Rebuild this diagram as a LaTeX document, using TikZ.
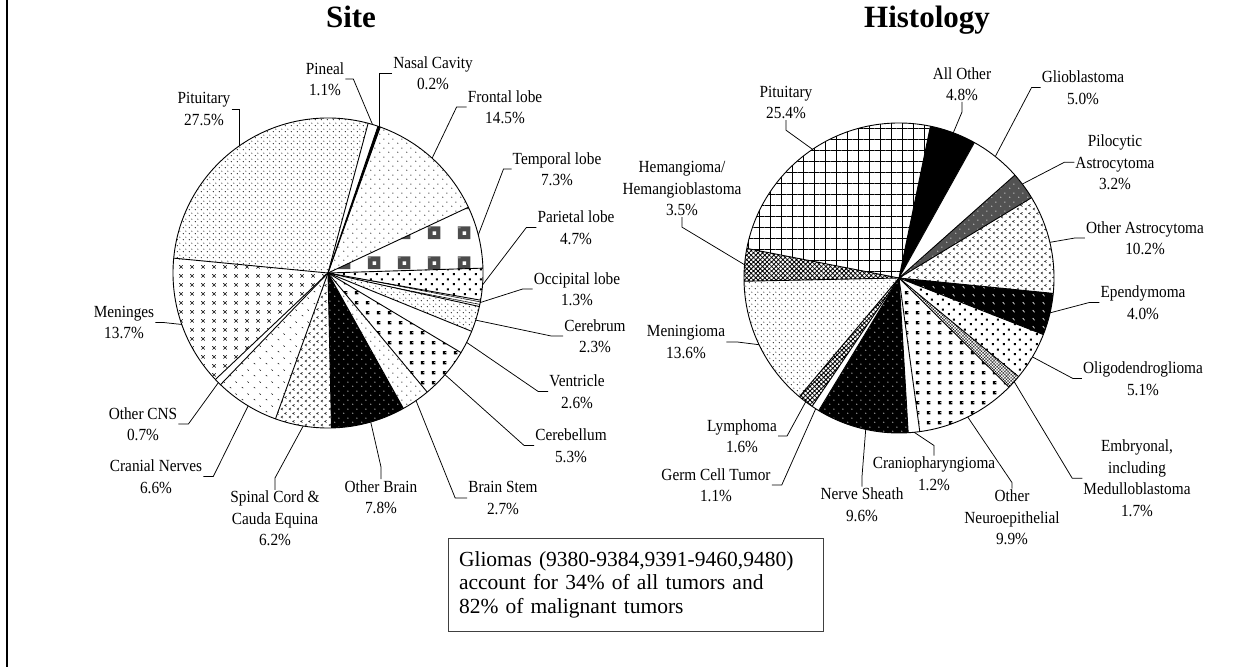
\documentclass[tikz,border=0pt]{standalone}
\usepackage{fontspec}
\setmainfont{Liberation Serif}
\newfontfamily\lblfont[FakeStretch=0.9]{Liberation Serif}
\usetikzlibrary{patterns.meta}

% fill patterns of the slices
\tikzdeclarepattern{name=finedots, type=uncolored,
  bounding box={(0pt,0pt) and (5.5pt,5.5pt)}, tile size={(5.5pt,5.5pt)},
  code={\fill (1.4pt,1.4pt) circle (0.6pt); \fill (4.15pt,4.15pt) circle (0.6pt);}}
\tikzdeclarepattern{name=sparsedots, type=uncolored,
  bounding box={(0pt,0pt) and (9pt,9pt)}, tile size={(9pt,9pt)},
  code={\fill (2pt,2pt) circle (0.65pt); \fill (6.5pt,6.5pt) circle (0.65pt);}}
\tikzdeclarepattern{name=bigdots, type=uncolored,
  bounding box={(0pt,0pt) and (11pt,10pt)}, tile size={(11pt,10pt)},
  code={\fill (2pt,2pt) rectangle (4.2pt,4.2pt); \fill (7.5pt,7pt) rectangle (9.7pt,9.2pt);}}
\tikzdeclarepattern{name=blocks, type=colored,
  bounding box={(0pt,0pt) and (30pt,30pt)}, tile size={(30pt,30pt)},
  code={\fill[black!70] (8pt,8pt) rectangle (21pt,21pt);
        \fill[white] (13pt,12.5pt) rectangle (16.5pt,16pt);
        \fill[black!45] (8pt,19pt) rectangle (11pt,21pt);}}
\tikzdeclarepattern{name=xmarks, type=uncolored,
  bounding box={(0pt,0pt) and (11pt,9pt)}, tile size={(11pt,9pt)},
  code={\draw[line width=0.6pt] (3.7pt,2.7pt) -- (7.3pt,6.3pt) (3.7pt,6.3pt) -- (7.3pt,2.7pt);}}
\tikzdeclarepattern{name=chevrons, type=uncolored,
  bounding box={(0pt,0pt) and (8pt,8pt)}, tile size={(8pt,8pt)},
  code={\draw[line width=0.55pt] (3.3pt,3.4pt) -- (1.2pt,2.2pt) -- (3.3pt,1pt)
        (7.3pt,7.4pt) -- (5.2pt,6.2pt) -- (7.3pt,5pt);}}
\tikzdeclarepattern{name=ticks, type=uncolored,
  bounding box={(0pt,0pt) and (12pt,12pt)}, tile size={(12pt,12pt)},
  code={\draw[line width=0.55pt] (2pt,4.2pt) -- (3.5pt,3pt) (8pt,10.2pt) -- (9.5pt,9pt);}}
\tikzdeclarepattern{name=slashes, type=uncolored,
  bounding box={(0pt,0pt) and (10pt,8pt)}, tile size={(10pt,8pt)},
  code={\draw[line width=0.7pt] (3pt,5.5pt) -- (5pt,3pt);}}
\tikzdeclarepattern{name=hooks, type=uncolored,
  bounding box={(0pt,0pt) and (11pt,10pt)}, tile size={(11pt,10pt)},
  code={\fill[even odd rule] (3pt,3pt) rectangle (7pt,6.5pt) (5.5pt,4.2pt) rectangle (7pt,5.3pt);}}

\tikzset{
  slice/.style={draw=black, line width=0.9pt, line join=round},
  sWhite/.style={fill=white},
  sBlack/.style={fill=black},
  sFineDots/.style={pattern=finedots},
  sDots/.style={pattern=sparsedots},
  sBigDots/.style={pattern=bigdots},
  sBlocks/.style={pattern=blocks},
  sCross/.style={pattern=xmarks},
  sChevron/.style={pattern=chevrons},
  sTicks/.style={pattern=ticks},
  sHooks/.style={pattern=hooks},
  sBlackDots/.style={fill=black, postaction={pattern=sparsedots, pattern color=white}},
  sGrayDots/.style={fill=black!68, postaction={pattern=sparsedots, pattern color=white}},
  sBlackTicks/.style={fill=black, postaction={pattern=slashes, pattern color=white}},
  sGrid/.style={pattern={Hatch[angle=0, distance=11pt, line width=0.7pt]}},
  sMesh/.style={pattern={Hatch[angle=45, distance=3.2pt, line width=0.8pt]}},
  sStipple/.style={pattern={Hatch[angle=45, distance=2.2pt, line width=0.25pt]}},
  sStripes/.style={pattern={Lines[angle=-11, distance=2.5pt, line width=0.6pt]}},
  lbl/.style={font=\lblfont\fontsize{17}{21.5}\selectfont, align=center, inner sep=1pt},
  lead/.style={draw=black, line width=0.75pt},
  ttl/.style={font=\bfseries\fontsize{31}{36}\selectfont, anchor=base},
}

\newcommand{\pieslice}[3]{\fill[#3] (0,0) -- (#1:155) arc[start angle=#1, end angle=#2, radius=155] -- cycle;}

\begin{document}
\begin{tikzpicture}[x=1pt, y=1pt]
\useasboundingbox (0,0) rectangle (1251,667);
\draw[line width=1.6pt] (7,0) -- (7,667);

\node[ttl] (site) at (351,639) {Site};
\node[ttl] (histo) at (927,639) {Histology};

% Site pie
\begin{scope}[shift={(328,394)}]
  \pieslice{174.5}{75}{sFineDots}
  \pieslice{75}{71.2}{sWhite}
  \pieslice{71.2}{70.3}{sBlack}
  \pieslice{70.3}{25.1}{sDots}
  \pieslice{25.1}{1.8}{sBlocks}
  \pieslice{1.8}{-10.1}{sBigDots}
  \pieslice{-10.1}{-12.5}{sStripes}
  \pieslice{-12.5}{-22.1}{sFineDots}
  \pieslice{-22.1}{-30.9}{sWhite}
  \pieslice{-30.9}{-50.2}{sHooks}
  \pieslice{-50.2}{-60.9}{sDots}
  \pieslice{-60.9}{-88.7}{sBlackDots}
  \pieslice{-88.7}{-109.8}{sChevron}
  \pieslice{-109.8}{-133.9}{sTicks}
  \pieslice{-133.9}{-136.6}{sWhite}
  \pieslice{-136.6}{-185.5}{sCross}
  \foreach \a in {174.5,75,71.2,70.3,25.1,1.8,-10.1,-12.5,-22.1,-30.9,-50.2,-60.9,-88.7,-109.8,-133.9,-136.6}
    \draw[slice] (0,0) -- (\a:155);
  \draw[slice] (0,0) circle (155);

  \node[lbl] (pitS) at (-124,164) {Pituitary\\27.5\%};
  \coordinate (pitS-r) at (125:155);
  \draw[lead] (pitS.east) -| (pitS-r);
  \node[lbl] (pinS) at (-3,194) {Pineal\\1.1\%};
  \coordinate (pinS-r) at (73.3:155);
  \draw[lead] (pinS.east) -- ++(8,0) -- (pinS-r);
  \node[lbl] (nasS) at (105,200) {Nasal Cavity\\0.2\%};
  \coordinate (nasS-r) at (70.8:155);
  \draw[lead] (nasS.west) -| (nasS-r);
  \node[lbl] (froS) at (177,166) {Frontal lobe\\14.5\%};
  \coordinate (froS-r) at (47.8:155);
  \draw[lead] (froS.west) -- ++(-10,0) -- (froS-r);
  \node[lbl] (temS) at (229,104) {Temporal lobe\\7.3\%};
  \coordinate (temS-r) at (14.2:155);
  \draw[lead] (temS.west) -- ++(-8,0) -- (temS-r);
  \node[lbl] (parS) at (248,45.5) {Parietal lobe\\4.7\%};
  \coordinate (parS-r) at (-4.4:155);
  \draw[lead] (parS.west) -- ++(-10,0) -- (parS-r);
  \node[lbl] (occS) at (249,-16) {Occipital lobe\\1.3\%};
  \coordinate (occS-r) at (-11:155);
  \draw[lead] (occS.west) -- ++(-10,0) -- (occS-r);
  \node[lbl] (cerS) at (267,-63) {Cerebrum\\2.3\%};
  \coordinate (cerS-r) at (-17.7:155);
  \draw[lead] (cerS.west) -- ++(-12,0) -- (cerS-r);
  \node[lbl] (venS) at (249,-118.5) {Ventricle\\2.6\%};
  \coordinate (venS-r) at (-26.6:155);
  \draw[lead] (venS.west) -- ++(-10,0) -- (venS-r);
  \node[lbl] (cblS) at (243,-172.5) {Cerebellum\\5.3\%};
  \coordinate (cblS-r) at (-41:155);
  \draw[lead] (cblS.west) -- ++(-10,0) -- (cblS-r);
  \node[lbl] (bstS) at (175,-225) {Brain Stem\\2.7\%};
  \coordinate (bstS-r) at (-55.4:155);
  \draw[lead] (bstS.west) -- ++(-12,0) -- (bstS-r);
  \node[lbl] (obrS) at (53,-224) {Other Brain\\7.8\%};
  \coordinate (obrS-r) at (-74:155);
  \draw[lead] (obrS.north) -- ++(0,12) -- (obrS-r);
  \node[lbl] (spiS) at (-53,-245.7) {Spinal Cord \&\\Cauda Equina\\6.2\%};
  \coordinate (spiS-r) at (-99.2:155);
  \draw[lead] (spiS.north) -- ++(0,12) -- (spiS-r);
  \node[lbl] (craS) at (-172,-203.5) {Cranial Nerves\\6.6\%};
  \coordinate (craS-r) at (-121:155);
  \draw[lead] (craS.east) -- ++(10,0) -- (craS-r);
  \node[lbl] (ocnS) at (-185,-151) {Other CNS\\0.7\%};
  \coordinate (ocnS-r) at (-135:155);
  \draw[lead] (ocnS.east) -- ++(10,0) -- (ocnS-r);
  \node[lbl] (menS) at (-204,-49.5) {Meninges\\13.7\%};
  \coordinate (menS-r) at (-160.6:155);
  \draw[lead] (menS.east) -- ++(8,0) -- (menS-r);
\end{scope}

% Histology pie
\begin{scope}[shift={(899,389)}]
  \pieslice{169}{78.3}{sGrid}
  \pieslice{78.3}{60.9}{sBlack}
  \pieslice{60.9}{41.6}{sWhite}
  \pieslice{41.6}{31.2}{sGrayDots}
  \pieslice{31.2}{-5.7}{sChevron}
  \pieslice{-5.7}{-21.4}{sBlackTicks}
  \pieslice{-21.4}{-39.5}{sBigDots}
  \pieslice{-39.5}{-44.8}{sStipple}
  \pieslice{-44.8}{-82.3}{sHooks}
  \pieslice{-82.3}{-86.6}{sWhite}
  \pieslice{-86.6}{-121.2}{sBlackDots}
  \pieslice{-121.2}{-124.1}{sWhite}
  \pieslice{-124.1}{-130}{sMesh}
  \pieslice{-130}{-178.8}{sFineDots}
  \pieslice{-178.8}{-191}{sMesh}
  \foreach \a in {169,78.3,60.9,41.6,31.2,-5.7,-21.4,-39.5,-44.8,-82.3,-86.6,-121.2,-124.1,-130,-178.8}
    \draw[slice] (0,0) -- (\a:155);
  \draw[slice] (0,0) circle (155);

  \node[lbl] (pitH) at (-113,175.5) {Pituitary\\25.4\%};
  \coordinate (pitH-r) at (123.9:155);
  \draw[lead] (pitH.south) -- ++(0,-10) -- (pitH-r);
  \node[lbl] (aloH) at (63,194) {All Other\\4.8\%};
  \coordinate (aloH-r) at (69.5:155);
  \draw[lead] (aloH.south) -- ++(0,-10) -- (aloH-r);
  \node[lbl] (gbmH) at (184,190.5) {Glioblastoma\\5.0\%};
  \coordinate (gbmH-r) at (51.6:155);
  \draw[lead] (gbmH.west) -- ++(-9,0) -- (gbmH-r);
  \node[lbl] (pilH) at (216,115.7) {Pilocytic\\Astrocytoma\\3.2\%};
  \coordinate (pilH-r) at (37.3:155);
  \draw[lead] (pilH.west) -- ++(-10,0) -- (pilH-r);
  \node[lbl] (oasH) at (246,40) {Other Astrocytoma\\10.2\%};
  \coordinate (oasH-r) at (13.3:155);
  \draw[lead] (oasH.west) -- ++(-10,0) -- (oasH-r);
  \node[lbl] (epeH) at (244,-24.5) {Ependymoma\\4.0\%};
  \coordinate (epeH-r) at (-13:155);
  \draw[lead] (epeH.west) -- ++(-10,0) -- (epeH-r);
  \node[lbl] (oliH) at (244,-100.5) {Oligodendroglioma\\5.1\%};
  \coordinate (oliH-r) at (-30.6:155);
  \draw[lead] (oliH.west) -- ++(-9,0) -- (oliH-r);
  \node[lbl] (embH) at (238,-200.3) {Embryonal,\\including\\Medulloblastoma\\1.7\%};
  \coordinate (embH-r) at (-42:155);
  \draw[lead] (embH.west) -- ++(-10,0) -- (embH-r);
  \node[lbl] (oneH) at (113,-239.3) {Other\\Neuroepithelial\\9.9\%};
  \coordinate (oneH-r) at (-63.7:155);
  \draw[lead] (oneH.north) -- ++(0,6) -- (oneH-r);
  \node[lbl] (crpH) at (35,-195.5) {Craniopharyngioma\\1.2\%};
  \coordinate (crpH-r) at (-84.4:155);
  \draw[lead] (crpH.north) -- ++(0,10) -- (crpH-r);
  \node[lbl] (nshH) at (-37,-226.5) {Nerve Sheath\\9.6\%};
  \coordinate (nshH-r) at (-102.4:155);
  \draw[lead] (nshH.north) -- ++(0,10) -- (nshH-r);
  \node[lbl] (gctH) at (-183,-207) {Germ Cell Tumor\\1.1\%};
  \coordinate (gctH-r) at (-122.5:155);
  \draw[lead] (gctH.east) -- ++(10,0) -- (gctH-r);
  \node[lbl] (lymH) at (-157,-158) {Lymphoma\\1.6\%};
  \coordinate (lymH-r) at (-127:155);
  \draw[lead] (lymH.east) -- ++(9,0) -- (lymH-r);
  \node[lbl] (mngH) at (-213,-64) {Meningioma\\13.6\%};
  \coordinate (mngH-r) at (-154.5:155);
  \draw[lead] (mngH.east) -- ++(11,0) -- (mngH-r);
  \node[lbl] (hemH) at (-217,89.3) {Hemangioma/\\Hemangioblastoma\\3.5\%};
  \coordinate (hemH-r) at (175.1:155);
  \draw[lead] (hemH.south) -- ++(0,-10) -- (hemH-r);
\end{scope}

\node[draw=black!75, line width=0.8pt, text width=353pt, inner xsep=11pt,
  minimum height=93pt, align=left, font=\fontsize{21.5}{23.5}\selectfont]
  (gliomas) at (635.5,82.5)
  {Gliomas (9380-9384,9391-9460,9480)\\account for 34\% of all tumors and\\82\% of malignant tumors};
\end{tikzpicture}
\end{document}
